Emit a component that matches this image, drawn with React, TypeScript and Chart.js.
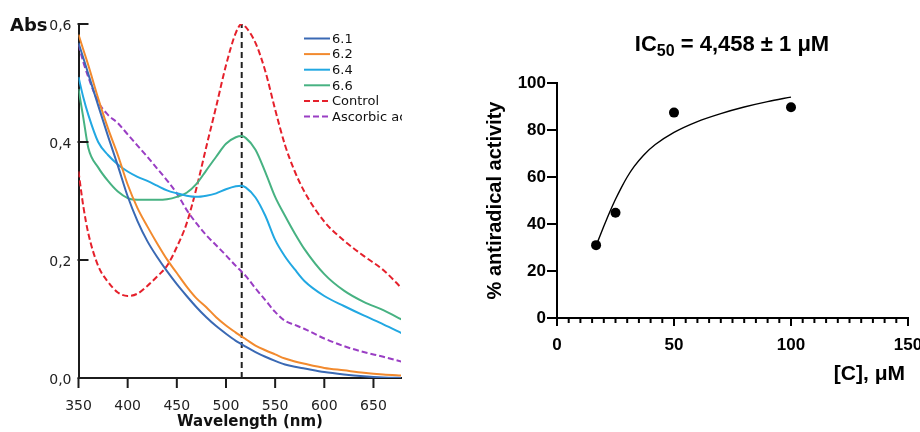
import React, { useEffect, useRef } from 'react';
import { Chart, registerables } from 'chart.js';

Chart.register(...registerables);

// ---------- Left panel: UV-Vis spectra ----------
const wavelengths = [350, 355, 360, 370, 380, 390, 400, 410, 420, 430, 440, 450, 460, 470, 480, 490, 500, 510, 516, 520, 530, 540, 550, 560, 570, 580, 600, 620, 640, 660, 680];
const abs61 = [0.568, 0.542, 0.515, 0.462, 0.410, 0.360, 0.308, 0.266, 0.232, 0.205, 0.181, 0.159, 0.139, 0.120, 0.103, 0.088, 0.075, 0.063, 0.057, 0.053, 0.044, 0.036, 0.029, 0.023, 0.019, 0.016, 0.010, 0.006, 0.003, 0.001, 0.000];
const abs62 = [0.582, 0.556, 0.530, 0.474, 0.423, 0.378, 0.328, 0.288, 0.257, 0.228, 0.201, 0.178, 0.155, 0.135, 0.120, 0.103, 0.089, 0.077, 0.070, 0.066, 0.055, 0.047, 0.040, 0.033, 0.028, 0.024, 0.017, 0.013, 0.009, 0.006, 0.004];
const abs64 = [0.510, 0.475, 0.446, 0.400, 0.378, 0.362, 0.350, 0.341, 0.334, 0.326, 0.318, 0.313, 0.309, 0.307, 0.309, 0.313, 0.320, 0.325, 0.326, 0.323, 0.306, 0.275, 0.234, 0.206, 0.184, 0.164, 0.139, 0.122, 0.106, 0.091, 0.075];
const abs66 = [0.490, 0.440, 0.390, 0.357, 0.334, 0.316, 0.305, 0.302, 0.302, 0.302, 0.303, 0.307, 0.314, 0.329, 0.352, 0.375, 0.397, 0.408, 0.410, 0.407, 0.387, 0.349, 0.307, 0.275, 0.245, 0.218, 0.176, 0.148, 0.129, 0.115, 0.098];
const absControl = [0.350, 0.290, 0.245, 0.190, 0.163, 0.145, 0.139, 0.143, 0.156, 0.172, 0.190, 0.222, 0.262, 0.322, 0.392, 0.460, 0.530, 0.585, 0.600, 0.595, 0.568, 0.520, 0.455, 0.395, 0.350, 0.315, 0.265, 0.233, 0.207, 0.183, 0.150];
const absAscorbic = [0.565, 0.535, 0.510, 0.468, 0.446, 0.432, 0.413, 0.394, 0.375, 0.355, 0.335, 0.313, 0.285, 0.262, 0.242, 0.225, 0.208, 0.190, 0.180, 0.173, 0.152, 0.132, 0.112, 0.097, 0.090, 0.083, 0.067, 0.054, 0.044, 0.036, 0.027];
const spectraLabels = ['6.1', '6.2', '6.4', '6.6', 'Control', 'Ascorbic acid'];
const spectraColors = ['#3a69b4', '#f28a2e', '#22a8e2', '#47b282', '#e5202b', '#9a3ec4'];
const spectraDashed = [false, false, false, false, true, true];
const wavelengthTicks = [350, 400, 450, 500, 550, 600, 650];
const absTicks = [0, 0.2, 0.4, 0.6];
const markerWavelength = 516;
const markerAbs = [0, 0.6];

// ---------- Right panel: IC50 ----------
const concentrations = [16.7, 25, 50, 100];
const activity = [31, 44.8, 87.4, 89.7];
const fitConcentrations = [17.4, 20, 22.5, 25, 27.5, 30, 33, 37, 42, 50, 60, 70, 80, 90, 100];
const fitActivity = [32.5, 39, 45, 50.5, 55.5, 60, 64.5, 69.3, 73.8, 79, 83.6, 87, 89.8, 92.1, 94];
const concTicks = [0, 50, 100, 150];
const concMinorStep = 5;
const activityTicks = [0, 20, 40, 60, 80, 100];

const commaFmt = (v: number) => v.toFixed(1).replace('.', ',');

export default function App() {
  const leftRef = useRef<HTMLCanvasElement | null>(null);
  const rightRef = useRef<HTMLCanvasElement | null>(null);

  useEffect(() => {
    const series = [abs61, abs62, abs64, abs66, absControl, absAscorbic];
    const leftPlugin = {
      id: 'leftDecor',
      afterDraw(chart: any) {
        const { ctx, chartArea, scales } = chart;
        ctx.save();
        ctx.strokeStyle = '#1c1c1c';
        ctx.lineWidth = 2;
        absTicks.forEach((v) => {
          const y = Math.round(scales.y.getPixelForValue(v));
          ctx.beginPath();
          ctx.moveTo(chartArea.left - 1, y);
          ctx.lineTo(chartArea.left + 10, y);
          ctx.stroke();
        });
        wavelengthTicks.forEach((v) => {
          const x = scales.x.getPixelForValue(v);
          ctx.beginPath();
          ctx.moveTo(x, chartArea.bottom);
          ctx.lineTo(x, chartArea.bottom + 10);
          ctx.stroke();
        });
        ctx.fillStyle = '#111';
        ctx.textBaseline = 'alphabetic';
        ctx.textAlign = 'left';
        ctx.font = 'bold 18px "DejaVu Sans"';
        ctx.fillText('Abs', 10, 31);
        ctx.textAlign = 'center';
        ctx.font = 'bold 15px "DejaVu Sans"';
        ctx.fillText('Wavelength (nm)', 250, 426);
        // legend
        ctx.font = '13px "DejaVu Sans"';
        ctx.textAlign = 'left';
        ctx.textBaseline = 'middle';
        spectraLabels.forEach((lab, i) => {
          const y = 38.5 + i * 15.6;
          ctx.strokeStyle = spectraColors[i];
          ctx.lineWidth = 2;
          ctx.setLineDash(spectraDashed[i] ? [6, 3] : []);
          ctx.beginPath();
          ctx.moveTo(304, y);
          ctx.lineTo(330, y);
          ctx.stroke();
          ctx.setLineDash([]);
          ctx.fillStyle = '#111';
          ctx.fillText(lab, 332, y + 1);
        });
        ctx.restore();
      },
    };

    const left = new Chart(leftRef.current as HTMLCanvasElement, {
      type: 'line',
      data: {
        datasets: [
          ...series.map((vals, i) => ({
            label: spectraLabels[i],
            data: wavelengths.map((w, j) => ({ x: w, y: vals[j] })),
            borderColor: spectraColors[i],
            borderWidth: 2,
            borderDash: spectraDashed[i] ? [6, 3] : [],
            pointRadius: 0,
            cubicInterpolationMode: 'monotone' as const,
            fill: false,
          })),
          {
            label: 'marker',
            data: markerAbs.map((a) => ({ x: markerWavelength, y: a })),
            borderColor: '#222',
            borderWidth: 2,
            borderDash: [6, 4],
            pointRadius: 0,
            fill: false,
          },
        ],
      },
      options: {
        responsive: false,
        animation: false,
        layout: { padding: { top: 24, right: 1, left: 0, bottom: 0 } },
        plugins: { legend: { display: false }, tooltip: { enabled: false } },
        scales: {
          x: {
            type: 'linear',
            min: 350,
            max: 678,
            border: { color: '#1c1c1c', width: 2 },
            grid: { display: false, drawTicks: false },
            ticks: {
              stepSize: 50,
              includeBounds: false,
              padding: 20,
              color: '#222',
              font: { family: 'DejaVu Sans', size: 14 },
              maxRotation: 0,
            },
            afterFit(s: any) {
              s.height = 54;
              s.paddingLeft = 0;
              s.paddingRight = 0;
            },
          },
          y: {
            type: 'linear',
            min: 0,
            max: 0.6,
            border: { color: '#1c1c1c', width: 2 },
            grid: { display: false, drawTicks: false },
            ticks: {
              stepSize: 0.2,
              padding: 7,
              labelOffset: 2,
              color: '#222',
              font: { family: 'DejaVu Sans', size: 14 },
              callback: (v: any) => commaFmt(Number(v)),
            },
            afterFit(s: any) {
              s.width = 78.5;
            },
          },
        },
      },
      plugins: [leftPlugin],
    } as any);

    const rightPlugin = {
      id: 'rightDecor',
      afterDraw(chart: any) {
        const { ctx, chartArea, scales } = chart;
        ctx.save();
        ctx.strokeStyle = '#000';
        ctx.lineWidth = 2;
        activityTicks.forEach((v) => {
          const y = Math.round(scales.y.getPixelForValue(v));
          ctx.beginPath();
          ctx.moveTo(chartArea.left - 10, y);
          ctx.lineTo(chartArea.left, y);
          ctx.stroke();
        });
        for (let v = 0; v <= 150; v += concMinorStep) {
          const x = scales.x.getPixelForValue(v);
          const major = concTicks.includes(v);
          ctx.beginPath();
          ctx.moveTo(x, chartArea.bottom);
          ctx.lineTo(x, chartArea.bottom + (major ? 8 : 5));
          ctx.stroke();
        }
        ctx.fillStyle = '#000';
        // title with subscript
        const cx = 272;
        ctx.textBaseline = 'alphabetic';
        ctx.textAlign = 'left';
        const mainFont = 'bold 22px "Liberation Sans"';
        const subFont = 'bold 16px "Liberation Sans"';
        ctx.font = mainFont;
        const w1 = ctx.measureText('IC').width;
        const w3 = ctx.measureText(' = 4,458 ± 1 μM').width;
        ctx.font = subFont;
        const w2 = ctx.measureText('50').width;
        const x0 = cx - (w1 + w2 + w3) / 2;
        ctx.font = mainFont;
        ctx.fillText('IC', x0, 51);
        ctx.font = subFont;
        ctx.fillText('50', x0 + w1, 56);
        ctx.font = mainFont;
        ctx.fillText(' = 4,458 ± 1 μM', x0 + w1 + w2, 51);
        // axis titles
        ctx.font = 'bold 21px "Liberation Sans"';
        ctx.textAlign = 'right';
        ctx.fillText('[C], μM', 445, 380);
        ctx.save();
        ctx.translate(35, (chartArea.top + chartArea.bottom) / 2);
        ctx.rotate(-Math.PI / 2);
        ctx.textAlign = 'center';
        ctx.textBaseline = 'middle';
        ctx.font = 'bold 20px "Liberation Sans"';
        ctx.fillText('% antiradical activity', 0, 0);
        ctx.restore();
        ctx.restore();
      },
    };

    const right = new Chart(rightRef.current as HTMLCanvasElement, {
      type: 'line',
      data: {
        datasets: [
          {
            label: 'points',
            data: concentrations.map((c, i) => ({ x: c, y: activity[i] })),
            showLine: false,
            pointRadius: 5,
            pointBackgroundColor: '#000',
            pointBorderColor: '#000',
            pointBorderWidth: 0,
          },
          {
            label: 'fit',
            data: fitConcentrations.map((c, i) => ({ x: c, y: fitActivity[i] })),
            borderColor: '#000',
            borderWidth: 1.4,
            pointRadius: 0,
            cubicInterpolationMode: 'monotone' as const,
            fill: false,
          },
        ],
      },
      options: {
        responsive: false,
        animation: false,
        layout: { padding: { top: 83, right: 32, left: 0, bottom: 0 } },
        plugins: { legend: { display: false }, tooltip: { enabled: false } },
        scales: {
          x: {
            type: 'linear',
            min: 0,
            max: 150,
            border: { color: '#000', width: 2 },
            grid: { display: false, drawTicks: false },
            ticks: {
              stepSize: 50,
              padding: 17,
              color: '#000',
              font: { family: 'Liberation Sans', size: 17, weight: 'bold' },
              maxRotation: 0,
            },
            afterFit(s: any) {
              s.height = 114;
            },
          },
          y: {
            type: 'linear',
            min: 0,
            max: 100,
            border: { color: '#000', width: 2 },
            grid: { display: false, drawTicks: false },
            ticks: {
              stepSize: 20,
              padding: 11,
              color: '#000',
              font: { family: 'Liberation Sans', size: 17, weight: 'bold' },
            },
            afterFit(s: any) {
              s.width = 97;
            },
          },
        },
      },
      plugins: [rightPlugin],
    } as any);

    return () => {
      left.destroy();
      right.destroy();
    };
  }, []);

  return (
    <div
      style={{
        position: 'fixed',
        left: 0,
        top: 0,
        width: 920,
        height: 432,
        overflow: 'hidden',
        background: '#fff',
      }}
    >
      <canvas
        ref={leftRef}
        width={402}
        height={432}
        style={{ position: 'absolute', left: 0, top: 0, width: 402, height: 432 }}
      />
      <canvas
        ref={rightRef}
        width={480}
        height={432}
        style={{ position: 'absolute', left: 460, top: 0, width: 480, height: 432 }}
      />
    </div>
  );
}
